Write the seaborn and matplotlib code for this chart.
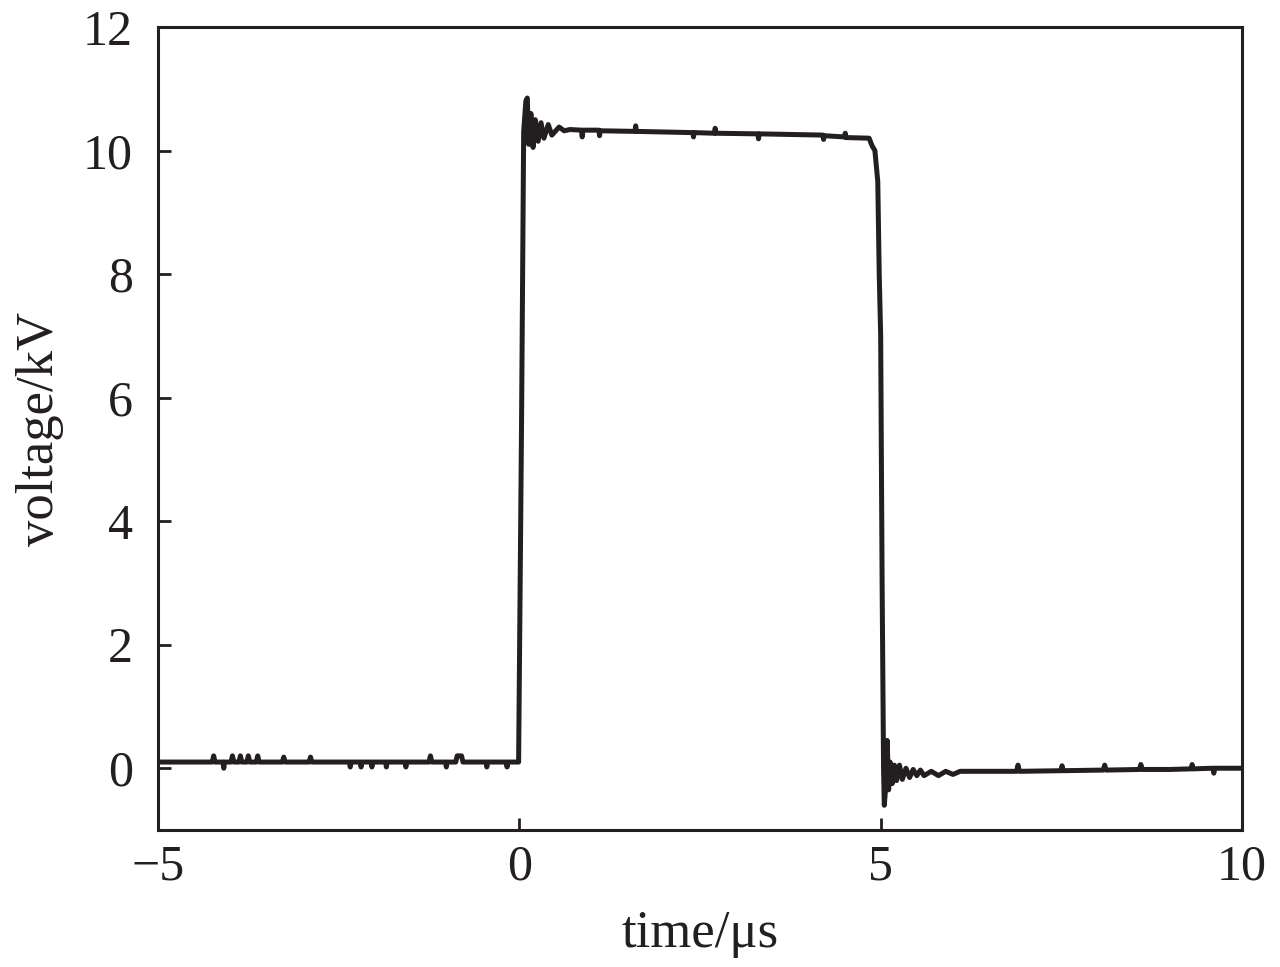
import numpy as np
import pandas as pd
import seaborn as sns
import matplotlib
matplotlib.use("Agg")
import matplotlib.pyplot as plt

# waveform (time in us, voltage in kV)
time_us = [
    # baseline before the pulse, with the narrow noise spikes
    -5.0, -4.25, -4.23, -4.21, -4.1, -4.09, -4.08, -3.99, -3.97, -3.95,
    -3.88, -3.86, -3.84, -3.77, -3.75, -3.73, -3.64, -3.62, -3.60,
    -3.28, -3.26, -3.24, -2.91, -2.89, -2.87, -2.35, -2.34, -2.33,
    -2.20, -2.19, -2.18, -2.05, -2.04, -2.03, -1.85, -1.84, -1.83,
    -1.58, -1.57, -1.56, -1.25, -1.23, -1.21, -1.02, -1.01, -1.00,
    -0.88, -0.86, -0.82, -0.80, -0.78, -0.46, -0.45, -0.44,
    -0.18, -0.17, -0.16, -0.01,
    # rise, overshoot and ringing
    0.03, 0.06, 0.09, 0.11, 0.13, 0.16, 0.19, 0.22, 0.26, 0.30, 0.34,
    0.40, 0.45, 0.55, 0.62,
    # flat top
    0.70, 0.86, 0.87, 0.88, 1.10, 1.11, 1.12, 1.60, 1.61, 1.62,
    2.40, 2.41, 2.42, 2.70, 2.71, 2.72, 3.30, 3.31, 3.32, 4.20, 4.21,
    4.22, 4.50, 4.51, 4.52, 4.84,
    # fall and undershoot ringing
    4.88, 4.92, 4.96, 4.98, 5.00, 5.02, 5.04, 5.05, 5.07, 5.09, 5.11,
    5.13, 5.16, 5.19, 5.22, 5.26, 5.30, 5.35, 5.40, 5.45, 5.50, 5.55,
    5.60, 5.70, 5.80, 5.90, 6.00,
    # baseline after the pulse
    6.10, 6.88, 6.90, 6.92, 7.50, 7.51, 7.52, 8.08, 8.10, 8.12,
    8.58, 8.60, 8.62, 9.00, 9.30, 9.31, 9.32, 9.60, 9.61, 9.62, 10.0,
]
voltage_kv = [
    0.10, 0.10, 0.20, 0.10, 0.10, 0.00, 0.10, 0.10, 0.20, 0.10,
    0.10, 0.20, 0.10, 0.10, 0.20, 0.10, 0.10, 0.20, 0.10,
    0.10, 0.18, 0.10, 0.10, 0.18, 0.10, 0.10, 0.02, 0.10,
    0.10, 0.02, 0.10, 0.10, 0.02, 0.10, 0.10, 0.02, 0.10,
    0.10, 0.02, 0.10, 0.10, 0.20, 0.10, 0.10, 0.02, 0.10,
    0.10, 0.20, 0.20, 0.20, 0.10, 0.10, 0.02, 0.10,
    0.10, 0.02, 0.10, 0.10,
    5.5, 10.3, 10.8, 10.85, 10.1, 10.6, 10.05, 10.5, 10.15, 10.45, 10.2,
    10.42, 10.25, 10.38, 10.32,
    10.34, 10.33, 10.22, 10.33, 10.33, 10.24, 10.32, 10.31, 10.40, 10.31,
    10.29, 10.22, 10.29, 10.28, 10.36, 10.28, 10.27, 10.19, 10.27, 10.25, 10.18,
    10.24, 10.22, 10.28, 10.21, 10.20,
    10.08, 10.00, 9.5, 8.0, 7.0, 3.0, 0.0, -0.6, -0.3, 0.45, -0.35,
    0.10, -0.25, 0.05, -0.20, 0.05, -0.18, 0.00, -0.15, -0.02, -0.12, -0.03,
    -0.12, -0.05, -0.12, -0.05, -0.10,
    -0.05, -0.05, 0.05, -0.05, -0.04, 0.04, -0.04, -0.03, 0.05, -0.03,
    -0.02, 0.06, -0.02, -0.02, -0.01, 0.06, -0.01, 0.00, -0.08, 0.00, 0.00,
]
x_ticks = [-5, 0, 5, 10]
y_ticks = [0, 2, 4, 6, 8, 10, 12]

df = pd.DataFrame({"time": time_us, "voltage": voltage_kv})

sns.set_style("ticks")
plt.rcParams["font.family"] = ["Liberation Serif", "DejaVu Serif"]

ink = "#231f20"
fig = plt.figure(figsize=(12.8, 9.67), dpi=100)
ax = fig.add_axes([158 / 1280, 1 - 830 / 967, (1242 - 158) / 1280, (830 - 27) / 967])

sns.lineplot(data=df, x="time", y="voltage", ax=ax, color=ink, linewidth=3.6,
             estimator=None, sort=False)

ax.set_xlim(-5, 10)
ax.set_ylim(-1, 12)
ax.set_xticks(x_ticks)
ax.set_yticks(y_ticks)
ax.tick_params(direction="in", length=9, width=2, colors=ink, labelsize=36,
               top=False, right=False)
ax.tick_params(axis="y", pad=18)
ax.tick_params(axis="x", pad=10)
for sp in ax.spines.values():
    sp.set_visible(True)
    sp.set_linewidth(2.2)
    sp.set_color(ink)

ax.set_xlabel("time/μs", fontsize=38, color=ink, labelpad=14)
ax.set_ylabel("voltage/kV", fontsize=38, color=ink, labelpad=14)

fig.savefig("out.png", dpi=100)
